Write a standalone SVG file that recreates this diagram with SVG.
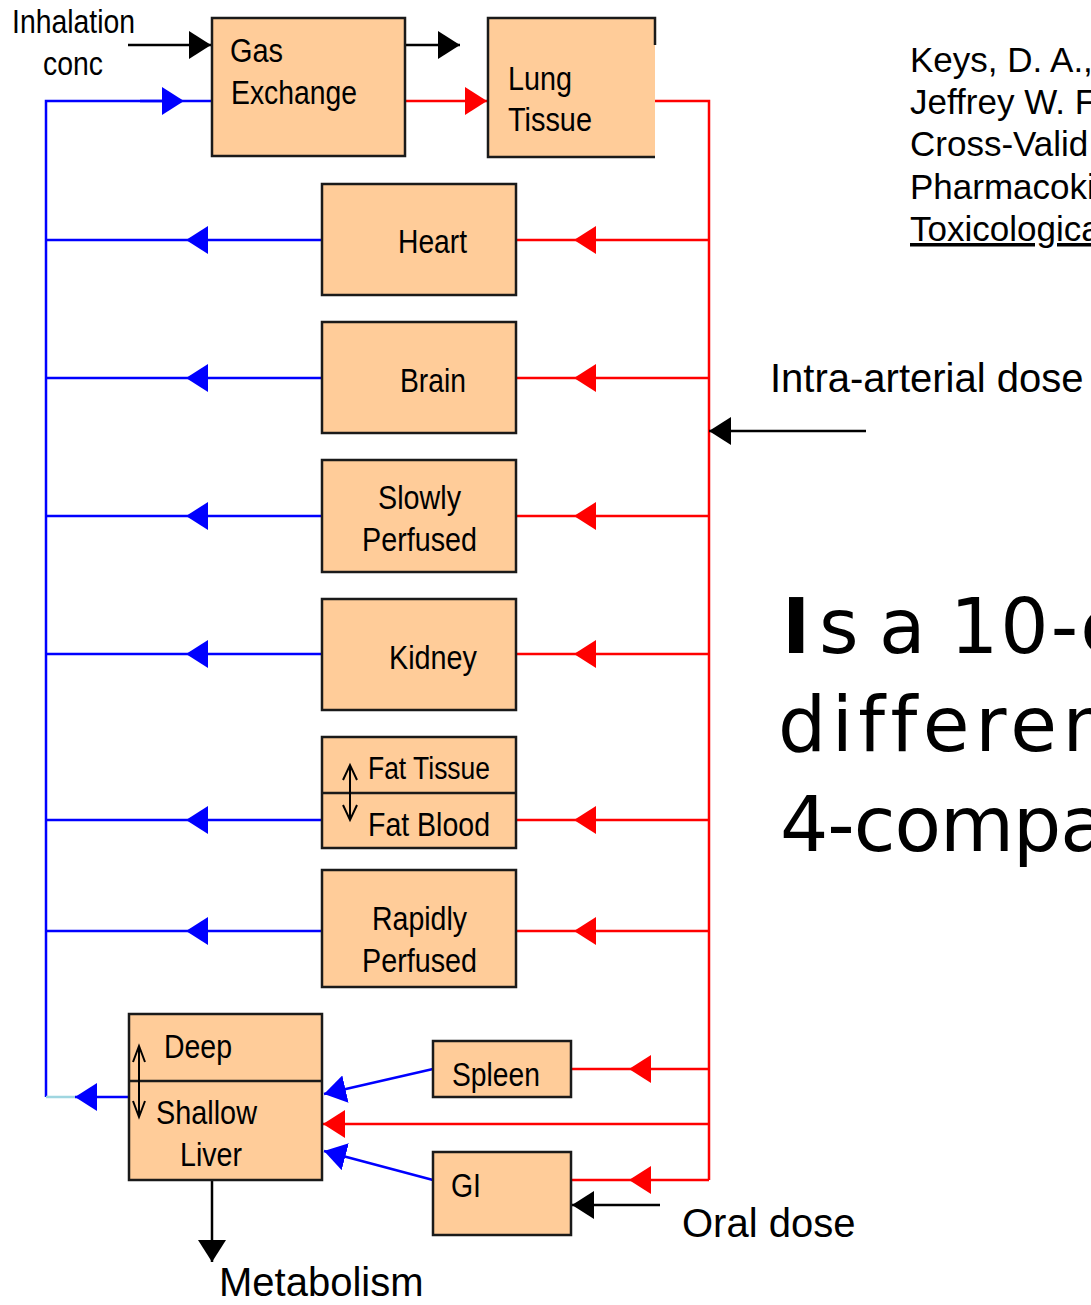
<svg xmlns="http://www.w3.org/2000/svg" width="1091" height="1305" viewBox="0 0 1091 1305">
<style>
.box{fill:#FFCC99;stroke:#1a1a1a;stroke-width:2.5}
.lbl{font-family:"Liberation Sans",Arial,sans-serif;font-size:33px;fill:#000}
.big{font-family:"Liberation Sans",Arial,sans-serif;font-size:40px;fill:#000}
.ref{font-family:"Liberation Sans",Arial,sans-serif;font-size:35px;fill:#000}
.q{font-family:"DejaVu Sans",Verdana,sans-serif;font-size:76px;fill:#000}
.b{stroke:#0000FF;stroke-width:2.5;fill:none}
.r{stroke:#FF0000;stroke-width:2.5;fill:none}
.k{stroke:#000;stroke-width:2.5;fill:none}
.dbl{stroke:#000;stroke-width:2;fill:none}
</style>
<defs>
<marker id="ab" viewBox="0 0 22 28" refX="22" refY="14" markerWidth="22" markerHeight="28" markerUnits="userSpaceOnUse" orient="auto"><path d="M0,0 L22,14 L0,28 z" fill="#0000FF"/></marker>
<marker id="ar" viewBox="0 0 22 28" refX="22" refY="14" markerWidth="22" markerHeight="28" markerUnits="userSpaceOnUse" orient="auto"><path d="M0,0 L22,14 L0,28 z" fill="#FF0000"/></marker>
<marker id="ak" viewBox="0 0 22 28" refX="22" refY="14" markerWidth="22" markerHeight="28" markerUnits="userSpaceOnUse" orient="auto"><path d="M0,0 L22,14 L0,28 z" fill="#000"/></marker>
</defs>
<rect width="1091" height="1305" fill="#fff"/>

<g id="connectors">
  <path class="b" d="M46,1097 V101 H162"/>
  <path class="b" d="M140,101 H184" marker-end="url(#ab)"/>
  <path class="b" d="M184,101 H212"/>
  <path class="b" d="M322,240 H186" marker-end="url(#ab)"/><path class="b" d="M186,240 H46"/>
  <path class="b" d="M322,378 H186" marker-end="url(#ab)"/><path class="b" d="M186,378 H46"/>
  <path class="b" d="M322,516 H186" marker-end="url(#ab)"/><path class="b" d="M186,516 H46"/>
  <path class="b" d="M322,654 H186" marker-end="url(#ab)"/><path class="b" d="M186,654 H46"/>
  <path class="b" d="M322,820 H186" marker-end="url(#ab)"/><path class="b" d="M186,820 H46"/>
  <path class="b" d="M322,931 H186" marker-end="url(#ab)"/><path class="b" d="M186,931 H46"/>
  <path class="b" d="M129,1097 H75" marker-end="url(#ab)"/>
  <path d="M75,1097 H46" stroke="#9fd6e0" stroke-width="2.5"/>
  <path class="b" d="M433,1069 L324,1094" marker-end="url(#ab)"/>
  <path class="b" d="M433,1180 L324,1151" marker-end="url(#ab)"/>
  <path class="r" d="M405,101 H487" marker-end="url(#ar)"/>
  <path class="r" d="M655,101 H709 V1180"/>
  <path class="r" d="M709,240 H574" marker-end="url(#ar)"/><path class="r" d="M574,240 H516"/>
  <path class="r" d="M709,378 H574" marker-end="url(#ar)"/><path class="r" d="M574,378 H516"/>
  <path class="r" d="M709,516 H574" marker-end="url(#ar)"/><path class="r" d="M574,516 H516"/>
  <path class="r" d="M709,654 H574" marker-end="url(#ar)"/><path class="r" d="M574,654 H516"/>
  <path class="r" d="M709,820 H574" marker-end="url(#ar)"/><path class="r" d="M574,820 H516"/>
  <path class="r" d="M709,931 H574" marker-end="url(#ar)"/><path class="r" d="M574,931 H516"/>
  <path class="r" d="M709,1069 H629" marker-end="url(#ar)"/><path class="r" d="M629,1069 H571"/>
  <path class="r" d="M709,1124 H323" marker-end="url(#ar)"/>
  <path class="r" d="M709,1180 H629" marker-end="url(#ar)"/><path class="r" d="M629,1180 H571"/>
  <path class="k" d="M128,45 H211" marker-end="url(#ak)"/>
  <path class="k" d="M405,45 H460" marker-end="url(#ak)"/>
  <path class="k" d="M866,431 H709" marker-end="url(#ak)"/>
  <path class="k" d="M660,1205 H572" marker-end="url(#ak)"/>
  <path class="k" d="M212,1180 V1262" marker-end="url(#ak)"/>
</g>

<g id="gas-exchange">
  <rect class="box" x="212" y="18" width="193" height="138"/>
  <text class="lbl" x="230" y="62" textLength="53" lengthAdjust="spacingAndGlyphs">Gas</text>
  <text class="lbl" x="231" y="104" textLength="126" lengthAdjust="spacingAndGlyphs">Exchange</text>
</g>
<g id="lung-tissue">
  <rect x="488" y="18" width="167" height="139" fill="#FFCC99"/>
  <path d="M655,45 V18 H488 V157 H655" fill="none" stroke="#1a1a1a" stroke-width="2.5"/>
  <text class="lbl" x="508" y="90" textLength="64" lengthAdjust="spacingAndGlyphs">Lung</text>
  <text class="lbl" x="508" y="131" textLength="84" lengthAdjust="spacingAndGlyphs">Tissue</text>
</g>
<g id="heart">
  <rect class="box" x="322" y="184" width="194" height="111"/>
  <text class="lbl" x="398" y="253" textLength="69" lengthAdjust="spacingAndGlyphs">Heart</text>
</g>
<g id="brain">
  <rect class="box" x="322" y="322" width="194" height="111"/>
  <text class="lbl" x="400" y="392" textLength="66" lengthAdjust="spacingAndGlyphs">Brain</text>
</g>
<g id="slowly-perfused">
  <rect class="box" x="322" y="460" width="194" height="112"/>
  <text class="lbl" x="378" y="509" textLength="83" lengthAdjust="spacingAndGlyphs">Slowly</text>
  <text class="lbl" x="362" y="551" textLength="115" lengthAdjust="spacingAndGlyphs">Perfused</text>
</g>
<g id="kidney">
  <rect class="box" x="322" y="599" width="194" height="111"/>
  <text class="lbl" x="389" y="669" textLength="88" lengthAdjust="spacingAndGlyphs">Kidney</text>
</g>
<g id="fat">
  <rect class="box" x="322" y="737" width="194" height="111"/>
  <line x1="322" y1="793" x2="516" y2="793" stroke="#1a1a1a" stroke-width="2.5"/>
  <text class="lbl" x="368" y="779" style="font-size:31px" textLength="122" lengthAdjust="spacingAndGlyphs">Fat Tissue</text>
  <text class="lbl" x="368" y="836" textLength="122" lengthAdjust="spacingAndGlyphs">Fat Blood</text>
  <path class="dbl" d="M350,765 V820 M343,780 L350,765 L357,780 M343,805 L350,820 L357,805"/>
</g>
<g id="rapidly-perfused">
  <rect class="box" x="322" y="870" width="194" height="117"/>
  <text class="lbl" x="372" y="930" textLength="95" lengthAdjust="spacingAndGlyphs">Rapidly</text>
  <text class="lbl" x="362" y="972" textLength="115" lengthAdjust="spacingAndGlyphs">Perfused</text>
</g>
<g id="liver">
  <rect class="box" x="129" y="1014" width="193" height="166"/>
  <line x1="129" y1="1081" x2="322" y2="1081" stroke="#1a1a1a" stroke-width="2.5"/>
  <text class="lbl" x="164" y="1058" textLength="68" lengthAdjust="spacingAndGlyphs">Deep</text>
  <text class="lbl" x="156" y="1124" textLength="101" lengthAdjust="spacingAndGlyphs">Shallow</text>
  <text class="lbl" x="180" y="1166" textLength="62" lengthAdjust="spacingAndGlyphs">Liver</text>
  <path class="dbl" d="M139,1046 V1117 M133,1062 L139,1046 L145,1062 M133,1101 L139,1117 L145,1101" stroke-width="1.5"/>
</g>
<g id="spleen">
  <rect class="box" x="433" y="1041" width="138" height="56"/>
  <text class="lbl" x="452" y="1086" textLength="88" lengthAdjust="spacingAndGlyphs">Spleen</text>
</g>
<g id="gi">
  <rect class="box" x="433" y="1152" width="138" height="83"/>
  <text class="lbl" x="451" y="1197" textLength="30" lengthAdjust="spacingAndGlyphs">GI</text>
</g>

<g id="labels">
  <text class="lbl" x="12" y="33" textLength="123" lengthAdjust="spacingAndGlyphs">Inhalation</text>
  <text class="lbl" x="43" y="75" textLength="60" lengthAdjust="spacingAndGlyphs">conc</text>
  <text class="big" x="770" y="392">Intra-arterial dose</text>
  <text class="big" x="682" y="1237">Oral dose</text>
  <text class="big" x="219" y="1296">Metabolism</text>
  <text class="ref" x="910" y="72">Keys, D. A.,</text>
  <text class="ref" x="910" y="114">Jeffrey W. F</text>
  <text class="ref" x="910" y="156">Cross-Valid</text>
  <text class="ref" x="910" y="199">Pharmacoki</text>
  <text class="ref" x="910" y="241" text-decoration="underline">Toxicologica</text>
  <text class="q" y="653"><tspan x="782" font-weight="bold">I</tspan><tspan x="819">s</tspan><tspan x="879">a</tspan><tspan x="950" letter-spacing="2">10-c</tspan></text>
  <text class="q" x="778" y="751" letter-spacing="5.5">differen</text>
  <text class="q" x="780" y="851" letter-spacing="-1">4-compa</text>
</g>
</svg>
